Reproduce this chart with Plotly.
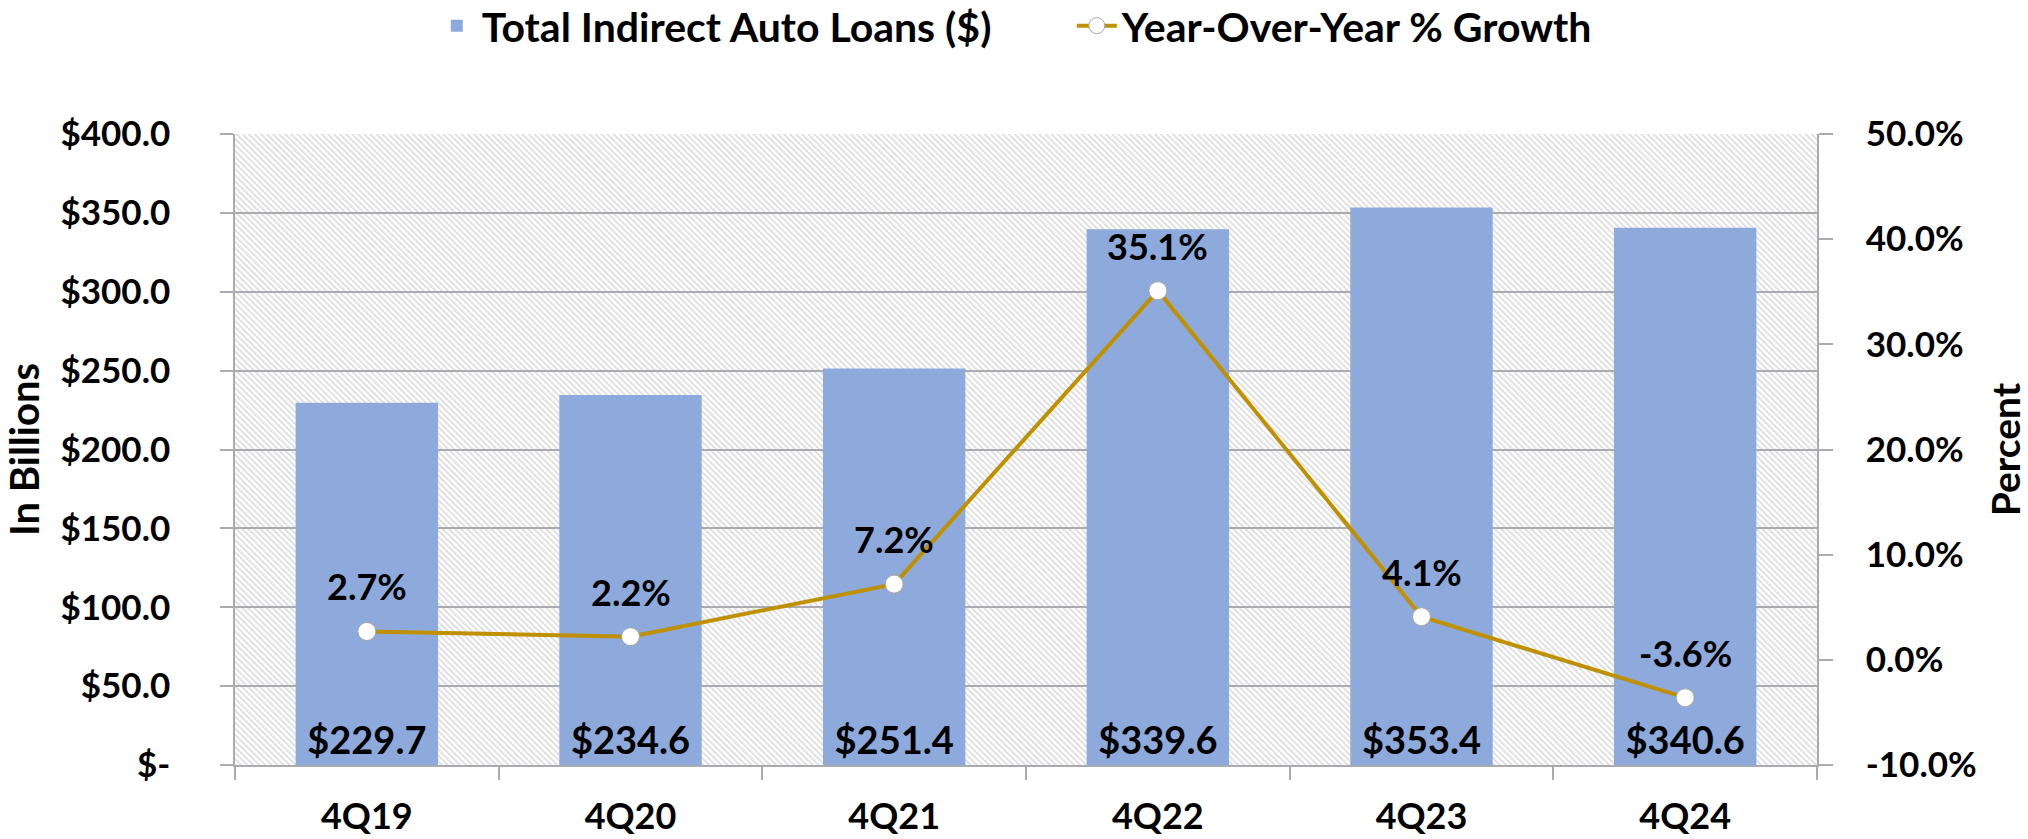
import plotly.graph_objects as go
import urllib.parse

categories = ["4Q19", "4Q20", "4Q21", "4Q22", "4Q23", "4Q24"]
loans = [229.7, 234.6, 251.4, 339.6, 353.4, 340.6]
growth = [2.7, 2.2, 7.2, 35.1, 4.1, -3.6]
left_ticks = [0, 50, 100, 150, 200, 250, 300, 350, 400]
left_tick_text = ["$-", "$50.0", "$100.0", "$150.0", "$200.0", "$250.0", "$300.0", "$350.0", "$400.0"]
right_ticks = [-10, 0, 10, 20, 30, 40, 50]
right_tick_text = ["-10.0%", "0.0%", "10.0%", "20.0%", "30.0%", "40.0%", "50.0%"]

FONT = "Lato"
BAR_COLOR = "#8eaadc"
LINE_COLOR = "#bf9000"
GRID = "#a9abb0"

fig = go.Figure()
fig.add_trace(go.Bar(
    x=categories, y=loans, name="Total Indirect Auto Loans ($)",
    marker=dict(color=BAR_COLOR, line=dict(width=0)),
    width=0.54,
    texttemplate="$%{y:.1f}", textposition="inside", insidetextanchor="start",
    textangle=0,
    textfont=dict(family=FONT, size=38, color="black", weight="bold"),
    yaxis="y",
))
fig.add_trace(go.Scatter(
    x=categories, y=growth, name="Year-Over-Year % Growth",
    mode="lines+markers",
    line=dict(color=LINE_COLOR, width=4),
    marker=dict(symbol="circle", size=18, color="white", line=dict(color="#a6a6a6", width=1)),
    yaxis="y2",
))

annotations = []
for c, g in zip(categories, growth):
    annotations.append(dict(
        x=c, y=g, xref="x", yref="y2", text=f"{g:.1f}%", showarrow=False,
        yshift=45, font=dict(family=FONT, size=36, color="black", weight="bold"),
    ))

svg = ("<svg xmlns='http://www.w3.org/2000/svg' width='1582' height='631'>"
       "<defs><pattern id='p' width='4.3' height='4.3' patternUnits='userSpaceOnUse' patternTransform='rotate(-45)'>"
       "<rect x='0' y='0' width='2' height='4.3' fill='#e0e0e0'/></pattern></defs>"
       "<rect width='100%' height='100%' fill='white'/>"
       "<rect width='100%' height='100%' fill='url(#p)'/></svg>")
img_src = "data:image/svg+xml;charset=utf-8," + urllib.parse.quote(svg)

fig.update_layout(
    width=2028, height=839,
    margin=dict(l=235, r=211, t=134, b=74, autoexpand=False),
    paper_bgcolor="white", plot_bgcolor="rgba(0,0,0,0)",
    font=dict(family=FONT, size=35, color="black", weight="bold"),
    showlegend=True,
    legend=dict(orientation="h", xref="container", yref="container",
                x=0.5285, xanchor="center", y=1 - 26 / 839, yanchor="middle",
                font=dict(family=FONT, size=41, color="black", weight="bold"),
                bgcolor="rgba(0,0,0,0)", itemwidth=40, traceorder="normal",
                entrywidth=585),
    annotations=annotations,
    images=[dict(source=img_src, xref="paper", yref="paper", x=0, y=1, sizex=1, sizey=1,
                 sizing="stretch", layer="below", xanchor="left", yanchor="top")],
    xaxis=dict(
        tickfont=dict(family=FONT, size=36, color="black", weight="bold"),
        showline=True, linecolor=GRID, linewidth=1.5,
        ticks="outside", tickson="boundaries", ticklen=13, tickcolor=GRID, tickwidth=1.5,
        ticklabelstandoff=19, showgrid=False,
    ),
    yaxis=dict(
        range=[0, 400], tickvals=left_ticks, ticktext=left_tick_text,
        tickfont=dict(family=FONT, size=35, color="black", weight="bold"),
        showline=True, linecolor=GRID, linewidth=1.5,
        ticks="outside", ticklen=13, tickcolor=GRID, tickwidth=1.5,
        showgrid=True, gridcolor=GRID, gridwidth=1.5,
        zeroline=False, ticklabelstandoff=43,
        title=dict(text="In Billions", font=dict(family=FONT, size=40, color="black", weight="bold"), standoff=22),
    ),
    yaxis2=dict(
        range=[-10, 50], tickvals=right_ticks, ticktext=right_tick_text,
        overlaying="y", side="right",
        tickfont=dict(family=FONT, size=35, color="black", weight="bold"),
        showline=True, linecolor=GRID, linewidth=1.5,
        ticks="outside", ticklen=14, tickcolor=GRID, tickwidth=1.5,
        showgrid=False, zeroline=False, ticklabelstandoff=26,
        title=dict(text="Percent", font=dict(family=FONT, size=39, color="black", weight="bold"), standoff=18),
    ),
)

fig.write_html("out.html", config={"displayModeBar": False},
               post_script="document.body.style.margin='0';document.body.style.overflow='hidden';")
